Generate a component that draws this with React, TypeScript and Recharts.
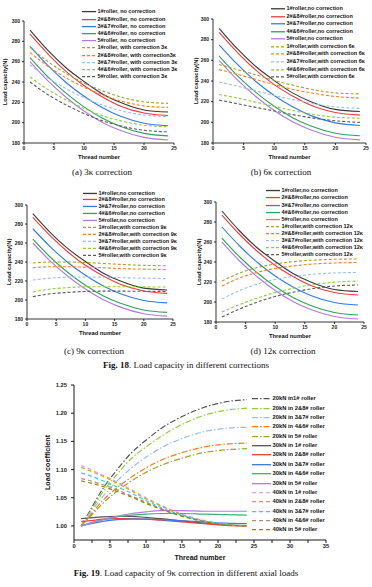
import React from 'react';
import { LineChart, Line, XAxis, YAxis, Label } from 'recharts';

const SANS = '"Liberation Sans", Arial, sans-serif';
const SERIF = '"Liberation Serif", "Times New Roman", serif';

// Fig. 18 -- thread numbers sampled along each curve
const threadNumbers = [1, 4, 7, 10, 13, 16, 20, 24];

// no correction (same in all four panels)
const noCorr1 = [291, 271, 254, 240.5, 228.5, 220, 212.5, 210.5];
const noCorr28 = [287, 267.5, 250.5, 236.5, 225.5, 216.5, 209.5, 207];
const noCorr37 = [275, 256, 239.5, 226, 215, 206.5, 199.5, 197];
const noCorr46 = [264, 245, 229, 215.5, 204.5, 196.5, 189.5, 187];
const noCorr5 = [260, 241, 225, 211.5, 200.5, 192.5, 185.5, 183];

// with correction 3k
const k3Roller1 = [274, 260, 248.5, 239, 231.5, 225.5, 220.5, 219];
const k3Roller28 = [269, 255.5, 244, 235, 227.5, 221.5, 216.5, 215];
const k3Roller37 = [257, 244, 233.5, 224.5, 217.5, 212, 207.5, 206];
const k3Roller46 = [245, 232.5, 222.5, 214, 207, 202, 197.5, 196];
const k3Roller5 = [240, 227.5, 217.5, 209, 202, 197, 192.5, 191];

// with correction 6k
const k6Roller1 = [256, 251, 246, 240.5, 236, 232, 228.5, 227.5];
const k6Roller28 = [251, 246.5, 241.5, 236.5, 232, 228.5, 225, 223.5];
const k6Roller37 = [239, 235, 230.5, 226, 222, 218.5, 215, 213.5];
const k6Roller46 = [227, 223.5, 219.5, 215.5, 211.5, 208, 205, 204];
const k6Roller5 = [221.5, 218, 214.5, 211, 207.5, 204.5, 201.5, 200];

// with correction 9k
const k9Roller1 = [239, 240, 240, 239.5, 238.5, 237.5, 236.5, 236];
const k9Roller28 = [234, 235, 235, 234.5, 234, 233, 232.5, 232];
const k9Roller37 = [221, 223, 224, 224.2, 224, 223.5, 223, 222.5];
const k9Roller46 = [208.5, 211.5, 213, 213.8, 214, 214, 213.8, 213.6];
const k9Roller5 = [203.5, 206.5, 208, 209, 209.3, 209.3, 209.2, 209];

// with correction 12k
const k12Roller1 = [221, 229, 234.5, 238, 240.3, 241.7, 242.7, 243];
const k12Roller28 = [216, 224, 229.7, 233.5, 236, 237.8, 239, 239.5];
const k12Roller37 = [203, 211.5, 218, 222.5, 225.5, 227.5, 229, 229.5];
const k12Roller46 = [190, 197.5, 204, 209.5, 213.7, 217, 219.8, 221];
const k12Roller5 = [185, 193, 200, 205.5, 209.8, 213, 216, 217];

const capTicks = [180, 200, 220, 240, 260, 280, 300];
const threadTicks = [0, 5, 10, 15, 20, 25];

// Fig. 19 -- load coefficient, 9k correction
const threadNumbers19 = [1, 2, 4, 6, 8, 10, 12, 15, 18, 21, 24];
const kn20Roller1 = [1.0, 1.022, 1.066, 1.1, 1.13, 1.152, 1.172, 1.194, 1.21, 1.22, 1.224];
const kn20Roller28 = [1.0, 1.02, 1.06, 1.092, 1.12, 1.14, 1.158, 1.18, 1.196, 1.205, 1.209];
const kn20Roller37 = [1.0, 1.018, 1.052, 1.08, 1.103, 1.122, 1.138, 1.155, 1.167, 1.173, 1.175];
const kn20Roller46 = [1.0, 1.015, 1.045, 1.068, 1.087, 1.103, 1.116, 1.13, 1.14, 1.145, 1.147];
const kn20Roller5 = [1.0, 1.013, 1.04, 1.062, 1.08, 1.095, 1.107, 1.12, 1.13, 1.135, 1.137];
const kn30Roller1 = [1.013, 1.014, 1.016, 1.017, 1.017, 1.015, 1.013, 1.009, 1.005, 1.002, 1.0];
const kn30Roller28 = [1.008, 1.009, 1.012, 1.013, 1.013, 1.012, 1.01, 1.007, 1.004, 1.001, 1.0];
const kn30Roller37 = [1.0, 1.003, 1.008, 1.011, 1.012, 1.012, 1.011, 1.009, 1.007, 1.005, 1.004];
const kn30Roller46 = [1.0, 1.004, 1.011, 1.016, 1.019, 1.021, 1.022, 1.022, 1.021, 1.02, 1.019];
const kn30Roller5 = [1.0, 1.004, 1.011, 1.017, 1.022, 1.025, 1.027, 1.027, 1.026, 1.026, 1.026];
const kn40Roller1 = [1.107, 1.102, 1.09, 1.078, 1.064, 1.05, 1.037, 1.021, 1.01, 1.003, 1.0];
const kn40Roller28 = [1.104, 1.099, 1.088, 1.076, 1.062, 1.048, 1.036, 1.02, 1.009, 1.003, 1.0];
const kn40Roller37 = [1.094, 1.09, 1.08, 1.069, 1.058, 1.045, 1.033, 1.019, 1.009, 1.003, 1.0];
const kn40Roller46 = [1.084, 1.081, 1.073, 1.064, 1.053, 1.042, 1.031, 1.018, 1.008, 1.002, 1.0];
const kn40Roller5 = [1.08, 1.077, 1.07, 1.061, 1.051, 1.04, 1.03, 1.017, 1.008, 1.002, 1.0];

const coefTicks = [1.0, 1.05, 1.1, 1.15, 1.2, 1.25];
const threadTicks19 = [0, 2.5, 5, 7.5, 10, 12.5, 15, 17.5, 20, 22.5, 25, 27.5, 30, 32.5, 35];

type Series = { key: string; name: string; color: string; dash?: string };

const DASH = '3 2';

const makeRows = (xs: number[], cols: Record<string, number[]>) =>
  xs.map((x, i) => {
    const row: Record<string, number> = { x };
    Object.keys(cols).forEach((k) => (row[k] = cols[k][i]));
    return row;
  });

const solidColors = ['#3a3a3a', '#f03c3c', '#2f7be8', '#2ea35a', '#b07ae8'];
const dashColors = ['#a6a22a', '#ff7a1a', '#9cc0ec', '#8ecf3a', '#5a5a5a'];

function fig18Series(k: string, sep: string, corrSep: string): Series[] {
  const rollers = ['1#roller', '2#&8#roller', '3#&7#roller', '4#&6#roller', '5#roller'];
  const solid = rollers.map((r, i) => ({ key: 'n' + i, name: `${r}${sep}no correction`, color: solidColors[i] }));
  const dashed = rollers.map((r, i) => ({
    key: 'c' + i,
    name: `${r}${sep}with correction${i === 1 ? corrSep : ' '}${k}`,
    color: dashColors[i],
    dash: DASH,
  }));
  return [...solid, ...dashed];
}

const noCorrCols = { n0: noCorr1, n1: noCorr28, n2: noCorr37, n3: noCorr46, n4: noCorr5 };
const dataA = makeRows(threadNumbers, { ...noCorrCols, c0: k3Roller1, c1: k3Roller28, c2: k3Roller37, c3: k3Roller46, c4: k3Roller5 });
const dataB = makeRows(threadNumbers, { ...noCorrCols, c0: k6Roller1, c1: k6Roller28, c2: k6Roller37, c3: k6Roller46, c4: k6Roller5 });
const dataC = makeRows(threadNumbers, { ...noCorrCols, c0: k9Roller1, c1: k9Roller28, c2: k9Roller37, c3: k9Roller46, c4: k9Roller5 });
const dataD = makeRows(threadNumbers, { ...noCorrCols, c0: k12Roller1, c1: k12Roller28, c2: k12Roller37, c3: k12Roller46, c4: k12Roller5 });

const data19 = makeRows(threadNumbers19, {
  a0: kn20Roller1, a1: kn20Roller28, a2: kn20Roller37, a3: kn20Roller46, a4: kn20Roller5,
  b0: kn30Roller1, b1: kn30Roller28, b2: kn30Roller37, b3: kn30Roller46, b4: kn30Roller5,
  d0: kn40Roller1, d1: kn40Roller28, d2: kn40Roller37, d3: kn40Roller46, d4: kn40Roller5,
});

const series19: Series[] = [
  { key: 'a0', name: '20kN in1# roller', color: '#555555', dash: '6 2 1.5 2' },
  { key: 'a1', name: '20kN in 2&8# roller', color: '#8ecf3a', dash: '6 2 1.5 2' },
  { key: 'a2', name: '20kN in 3&7# roller', color: '#9cc0ec', dash: '6 2 1.5 2' },
  { key: 'a3', name: '20kN in 4&6# roller', color: '#ff7a1a', dash: '6 2 1.5 2' },
  { key: 'a4', name: '20kN in 5# roller', color: '#a6a22a', dash: '6 2 1.5 2' },
  { key: 'b0', name: '30kN in 1# roller', color: '#555555' },
  { key: 'b1', name: '30kN in 2&8# roller', color: '#f03c3c' },
  { key: 'b2', name: '30kN in 3&7# roller', color: '#3d7be0' },
  { key: 'b3', name: '30kN in 4&6# roller', color: '#3cb371' },
  { key: 'b4', name: '30kN in 5# roller', color: '#b07ae8' },
  { key: 'd0', name: '40kN in 1# roller', color: '#d4a6f0', dash: '4 3' },
  { key: 'd1', name: '40kN in 2&8# roller', color: '#d9a21b', dash: '4 3' },
  { key: 'd2', name: '40kN in 3&7# roller', color: '#2ed6d6', dash: '4 3' },
  { key: 'd3', name: '40kN in 4&6# roller', color: '#b08a8a', dash: '4 3' },
  { key: 'd4', name: '40kN in 5# roller', color: '#8a8a10', dash: '4 3' },
];

function LegendBox({ items, left, top, pitch, fontSize, lineLen }: { items: Series[]; left: number; top: number; pitch: number; fontSize: number; lineLen: number }) {
  return (
    <div style={{ position: 'absolute', left, top, fontFamily: SANS, fontWeight: 700, fontSize, color: '#111', whiteSpace: 'nowrap' }}>
      {items.map((s) => (
        <div key={s.key} style={{ height: pitch, display: 'flex', alignItems: 'center' }}>
          <svg width={lineLen} height={pitch} style={{ marginRight: 1.5, flex: 'none' }}>
            <line x1={0} x2={lineLen} y1={pitch / 2} y2={pitch / 2} stroke={s.color} strokeWidth={1.3} strokeDasharray={s.dash} />
          </svg>
          <span style={{ lineHeight: `${pitch}px` }}>{s.name}</span>
        </div>
      ))}
    </div>
  );
}

type PanelProps = {
  left: number; top: number; width: number; height: number;
  mTop: number; mRight: number; yWidth: number; yTitleX: number;
  data: Record<string, number>[]; series: Series[];
  legend: { left: number; top: number; pitch: number };
  caption: string; captionX: number; captionY: number;
};

function Fig18Panel(p: PanelProps) {
  const tick = { fontSize: 5, fontWeight: 700, fill: '#222', fontFamily: SANS };
  return (
    <>
      <div style={{ position: 'absolute', left: p.left, top: p.top }}>
        <LineChart width={p.width} height={p.height} data={p.data} margin={{ top: p.mTop, right: p.mRight, left: 0, bottom: 0 }}>
          <XAxis type="number" dataKey="x" domain={[0, 25]} ticks={threadTicks} height={22} tick={tick} tickSize={2} tickMargin={1}
            axisLine={{ stroke: '#000', strokeWidth: 0.8 }} tickLine={{ stroke: '#000', strokeWidth: 0.8 }}>
            <Label value="Thread number" position="insideBottom" offset={6} style={{ fontSize: 5.8, fontWeight: 700, fill: '#111', fontFamily: SANS }} />
          </XAxis>
          <YAxis type="number" domain={[180, 300]} ticks={capTicks} width={p.yWidth} tick={tick} tickSize={2} tickMargin={2}
            axisLine={{ stroke: '#000', strokeWidth: 0.8 }} tickLine={{ stroke: '#000', strokeWidth: 0.8 }}>
            <Label value="Load capacity(N)" angle={-90} position="insideLeft" offset={p.yTitleX}
              style={{ fontSize: 5.8, fontWeight: 700, fill: '#111', fontFamily: SANS, textAnchor: 'middle' }} />
          </YAxis>
          {p.series.map((s) => (
            <Line key={s.key} type="monotone" dataKey={s.key} stroke={s.color} strokeWidth={1.1} strokeDasharray={s.dash} dot={false} isAnimationActive={false} />
          ))}
        </LineChart>
      </div>
      <LegendBox items={p.series} left={p.legend.left} top={p.legend.top} pitch={p.legend.pitch} fontSize={5.5} lineLen={14} />
      <div style={{ position: 'absolute', left: p.captionX - 60, top: p.captionY - 6, width: 120, textAlign: 'center', fontFamily: SERIF, fontSize: 9, color: '#111' }}>
        {p.caption}
      </div>
    </>
  );
}

function Fig19() {
  const tick = { fontSize: 5.8, fontWeight: 700, fill: '#222', fontFamily: SANS };
  return (
    <>
      <div style={{ position: 'absolute', left: 0, top: 364 }}>
        <LineChart width={372} height={210} data={data19} margin={{ top: 21, right: 46, left: 0, bottom: 0 }}>
          <XAxis type="number" dataKey="x" domain={[0, 35]} ticks={threadTicks19} height={34} tick={tick} tickSize={3} tickMargin={1}
            tickFormatter={(v: number) => (v % 5 === 0 ? String(v) : '')}
            axisLine={{ stroke: '#000', strokeWidth: 0.9 }} tickLine={{ stroke: '#000', strokeWidth: 0.9 }}>
            <Label value="Thread number" position="insideBottom" offset={14} style={{ fontSize: 7, fontWeight: 700, fill: '#111', fontFamily: SANS }} />
          </XAxis>
          <YAxis type="number" domain={[0.975, 1.25]} ticks={coefTicks} width={74} tick={tick} tickSize={3} tickMargin={4}
            tickFormatter={(v: number) => v.toFixed(2)}
            axisLine={{ stroke: '#000', strokeWidth: 0.9 }} tickLine={{ stroke: '#000', strokeWidth: 0.9 }}>
            <Label value="Load coefficient" angle={-90} position="insideLeft" offset={47}
              style={{ fontSize: 7.2, fontWeight: 700, fill: '#111', fontFamily: SANS, textAnchor: 'middle' }} />
          </YAxis>
          {series19.map((s) => (
            <Line key={s.key} type="monotone" dataKey={s.key} stroke={s.color} strokeWidth={1.2} strokeDasharray={s.dash} dot={false} isAnimationActive={false} />
          ))}
        </LineChart>
      </div>
      <LegendBox items={series19} left={252} top={394.3} pitch={9.36} fontSize={5.8} lineLen={19} />
    </>
  );
}

export default function App() {
  return (
    <div style={{ position: 'absolute', left: 0, top: 0, width: 372, height: 587, background: '#fff', overflow: 'hidden' }}>
      <Fig18Panel left={0} top={0} width={186} height={165} mTop={21} mRight={12} yWidth={24} yTitleX={5}
        data={dataA} series={fig18Series('3κ', ', ', '')} legend={{ left: 82, top: 8.4, pitch: 7.22 }}
        caption="(a) 3κ correction" captionX={102} captionY={173} />
      <Fig18Panel left={186} top={0} width={186} height={165} mTop={19} mRight={6} yWidth={27} yTitleX={10}
        data={dataB} series={fig18Series('6κ', ',', ' ')} legend={{ left: 271, top: 5.2, pitch: 7.55 }}
        caption="(b) 6κ correction" captionX={281} captionY={173} />
      <Fig18Panel left={0} top={184} width={186} height={157} mTop={21} mRight={13} yWidth={27} yTitleX={9}
        data={dataC} series={fig18Series('9κ', ',', ' ')} legend={{ left: 83, top: 189.5, pitch: 6.9 }}
        caption="(c) 9κ correction" captionX={94} captionY={352} />
      <Fig18Panel left={186} top={181} width={186} height={163} mTop={21} mRight={8} yWidth={30} yTitleX={13}
        data={dataD} series={fig18Series('12κ', ',', ' ')} legend={{ left: 266, top: 187.4, pitch: 7.1 }}
        caption="(d) 12κ correction" captionX={283} captionY={352} />
      <div style={{ position: 'absolute', left: 0, top: 360, width: 372, textAlign: 'center', fontFamily: SERIF, fontSize: 9, color: '#111' }}>
        <b>Fig. 18</b>. Load capacity in different corrections
      </div>
      <Fig19 />
      <div style={{ position: 'absolute', left: 0, top: 568, width: 372, textAlign: 'center', fontFamily: SERIF, fontSize: 9, color: '#111' }}>
        <b>Fig. 19</b>. Load capacity of 9κ correction in different axial loads
      </div>
    </div>
  );
}
